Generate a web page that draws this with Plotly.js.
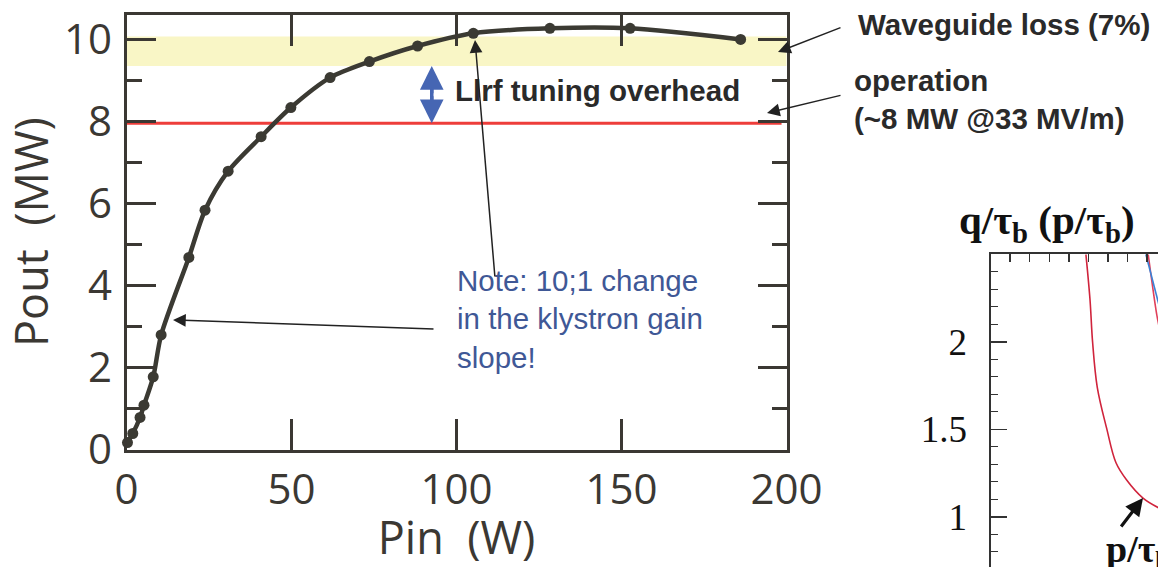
<!DOCTYPE html>
<html><head><meta charset="utf-8">
<script src="https://cdn.plot.ly/plotly-3.0.1.min.js"></script>
<style>html,body{margin:0;padding:0;background:#fff}#chart{width:1158px;height:567px}</style>
</head><body><div id="chart"></div>
<script>
// ---- main chart data (klystron transfer curve) ----
const pinW   = [0.3, 1.9, 4.1, 5.3, 8.1, 10.5, 18.9, 23.8, 30.8, 40.8, 49.8, 61.7, 73.6, 88.2, 105.1, 128.3, 152.6, 186.1];
const poutMW = [0.17, 0.39, 0.78, 1.08, 1.77, 2.79, 4.68, 5.83, 6.78, 7.62, 8.33, 9.06, 9.45, 9.83, 10.14, 10.26, 10.26, 9.99];
const operationMW = 7.95;
const waveguideBand = [9.34, 10.06];
const xTickVals = [0, 50, 100, 150, 200];
const yTickVals = [0, 2, 4, 6, 8, 10];
const yMinorVals = [1, 3, 5, 7, 9];
const tuningArrowPin = 92.5;

// ---- inset chart data (partial, cropped figure) ----
const insetRedX  = [0.487, 0.508, 0.521, 0.545, 0.593, 0.640, 0.695, 0.780, 0.860];
const insetRedY  = [2.50, 2.24, 2.00, 1.74, 1.505, 1.31, 1.21, 1.105, 1.05];
const insetRed2X = [0.805, 0.848, 0.862];
const insetRed2Y = [2.50, 2.16, 2.08];
const insetBlueX = [0.793, 0.860];
const insetBlueY = [2.50, 2.21];
const insetYTicks = [1, 1.5, 2];

const W = 1158, H = 567;
const pxX = v => v / W, pxY = v => 1 - v / H;
const axisCol = '#3b3833', tickCol = '#3b3833', curveCol = '#3b3a33';
const sans = 'Open Sans, sans-serif';
const bold = 'Liberation Sans, Arial, sans-serif';
const serif = 'Liberation Serif, Times New Roman, serif';
const blueArrow = '#4666b3';

const traces = [
  {x: pinW, y: poutMW, type: 'scatter', mode: 'lines+markers', xaxis: 'x', yaxis: 'y',
   line: {shape: 'spline', smoothing: 0.8, width: 4.5, color: curveCol},
   marker: {size: 11, color: curveCol}, cliponaxis: false, hoverinfo: 'skip'},
  {x: insetRedX, y: insetRedY, type: 'scatter', mode: 'lines', xaxis: 'x2', yaxis: 'y2',
   line: {shape: 'spline', width: 1.6, color: '#d0243c'}, hoverinfo: 'skip'},
  {x: insetRed2X, y: insetRed2Y, type: 'scatter', mode: 'lines', xaxis: 'x2', yaxis: 'y2',
   line: {shape: 'spline', width: 1.6, color: '#e0405a'}, hoverinfo: 'skip'},
  {x: insetBlueX, y: insetBlueY, type: 'scatter', mode: 'lines', xaxis: 'x2', yaxis: 'y2',
   line: {shape: 'spline', width: 1.6, color: '#3b82d6'}, hoverinfo: 'skip'}
];

function arrow(hx, hy, tx, ty, color, width, size) {
  return {xref: 'paper', yref: 'paper', x: pxX(hx), y: pxY(hy), ax: tx - hx, ay: ty - hy,
    axref: 'pixel', ayref: 'pixel', text: '', showarrow: true, arrowhead: 2,
    arrowcolor: color, arrowwidth: width, arrowsize: size, standoff: 0, startstandoff: 0};
}
function label(txt, x, y, font, opts) {
  return Object.assign({xref: 'paper', yref: 'paper', x: pxX(x), y: pxY(y), text: txt,
    showarrow: false, xanchor: 'left', yanchor: 'middle', align: 'left', font: font}, opts || {});
}

const boldFont = {family: bold, size: 29.5, color: '#2a2a2a', weight: 'bold'};
const midTuning = (waveguideBand[0] + operationMW) / 2;
const annotations = [
  label('<b>Llrf tuning overhead</b>', 453, 90, boldFont),
  label('<b>Waveguide loss (7%)</b>', 856, 25, boldFont),
  label('<b>operation</b><br><b>(~8 MW @33 MV/m)</b>', 852, 99, boldFont),
  label('Note: 10;1 change<br>in the klystron gain<br>slope!', 455, 319,
        {family: bold, size: 29.5, color: '#3f5896'}),
  // double arrow heads (tuning overhead) - data coordinates
  {xref: 'x', yref: 'y', x: tuningArrowPin, y: waveguideBand[0], ax: tuningArrowPin, ay: midTuning,
   axref: 'x', ayref: 'y', text: '', showarrow: true,
   arrowhead: 2, arrowsize: 1.35, arrowwidth: 3.5, arrowcolor: blueArrow, standoff: 0},
  {xref: 'x', yref: 'y', x: tuningArrowPin, y: operationMW, ax: tuningArrowPin, ay: midTuning,
   axref: 'x', ayref: 'y', text: '', showarrow: true,
   arrowhead: 2, arrowsize: 1.35, arrowwidth: 3.5, arrowcolor: blueArrow, standoff: 0},
  arrow(475, 40, 495, 278, '#222', 1.5, 1.7),
  arrow(173, 320, 435, 329, '#222', 1.5, 1.7),
  arrow(778, 52, 842, 27, '#222', 1.5, 1.7),
  arrow(767, 113, 842, 95, '#222', 1.5, 1.7),
  // inset
  label('<b>q/τ<sub>b</sub> (p/τ<sub>b</sub>)</b>', 957, 223, {family: serif, size: 41, color: '#111'}),
  arrow(1143, 498, 1120, 528, '#111', 3.2, 1.1),
  label('<b>p/τ<sub>b</sub></b>', 1104, 552, {family: serif, size: 38, color: '#111'})
];

const shapes = [
  {type: 'rect', xref: 'x', yref: 'y', x0: 0, x1: 201.5, y0: waveguideBand[0], y1: waveguideBand[1],
   fillcolor: '#f9f6c6', line: {width: 0}, layer: 'below'},
  {type: 'line', xref: 'x', yref: 'y', x0: 0, x1: 198.5, y0: operationMW, y1: operationMW,
   line: {color: '#ee3d3a', width: 3}, layer: 'below'},
  {type: 'line', xref: 'x', yref: 'y', x0: tuningArrowPin, x1: tuningArrowPin,
   y0: operationMW + 0.3, y1: waveguideBand[0] - 0.3, line: {color: blueArrow, width: 3.5}, layer: 'above'}
];

const layout = {
  width: W, height: H, margin: {l: 0, r: 0, t: 0, b: 0},
  paper_bgcolor: '#fff', plot_bgcolor: 'rgba(0,0,0,0)', showlegend: false,
  xaxis: {domain: [pxX(126.5), pxX(786.5)], range: [0, 200], anchor: 'y',
    tickmode: 'array', tickvals: xTickVals, ticks: 'inside', ticklen: 31, tickwidth: 3, tickcolor: axisCol,
    showline: true, linewidth: 3, linecolor: axisCol, mirror: 'ticks', showgrid: false, zeroline: false,
    tickfont: {family: sans, size: 42, color: tickCol}, ticklabelstandoff: 1,
    title: {text: 'Pin\u00a0\u00a0(W)', font: {family: sans, size: 45, color: tickCol}, standoff: 13},
    fixedrange: true},
  yaxis: {domain: [pxY(449.5), pxY(14.8)], range: [0, 10.59], anchor: 'x',
    tickmode: 'array', tickvals: yTickVals, ticks: 'inside', ticklen: 29, tickwidth: 3, tickcolor: axisCol,
    minor: {tickmode: 'array', tickvals: yMinorVals, ticks: 'inside', ticklen: 15, tickwidth: 3, tickcolor: axisCol},
    showline: true, linewidth: 3, linecolor: axisCol, mirror: 'ticks', showgrid: false, zeroline: false,
    tickfont: {family: sans, size: 42, color: tickCol}, ticklabelstandoff: 3,
    title: {text: 'Pout\u00a0\u00a0(MW)', font: {family: sans, size: 45, color: tickCol}, standoff: 10},
    fixedrange: true},
  xaxis2: {domain: [pxX(990.5), 1], range: [0, 0.855], anchor: 'y2', side: 'top',
    dtick: 0.1, tick0: 0, ticks: 'inside', ticklen: 8, tickwidth: 1.5, tickcolor: '#333',
    showticklabels: false, showline: true, linewidth: 2, linecolor: '#333', showgrid: false, zeroline: false,
    fixedrange: true},
  yaxis2: {domain: [0, pxY(254.3)], range: [0.713, 2.5], anchor: 'x2', side: 'left',
    tickmode: 'array', tickvals: insetYTicks, ticks: 'inside', ticklen: 16, tickwidth: 1.5, tickcolor: '#333',
    minor: {dtick: 0.1, tick0: 0, ticks: 'inside', ticklen: 7, tickwidth: 1.2, tickcolor: '#333'},
    showline: true, linewidth: 2, linecolor: '#333', showgrid: false, zeroline: false,
    tickfont: {family: serif, size: 37, color: '#111'}, ticklabelstandoff: 14, fixedrange: true},
  shapes: shapes,
  annotations: annotations
};

Plotly.newPlot('chart', traces, layout, {displayModeBar: false, staticPlot: true});
</script>
</body></html>
